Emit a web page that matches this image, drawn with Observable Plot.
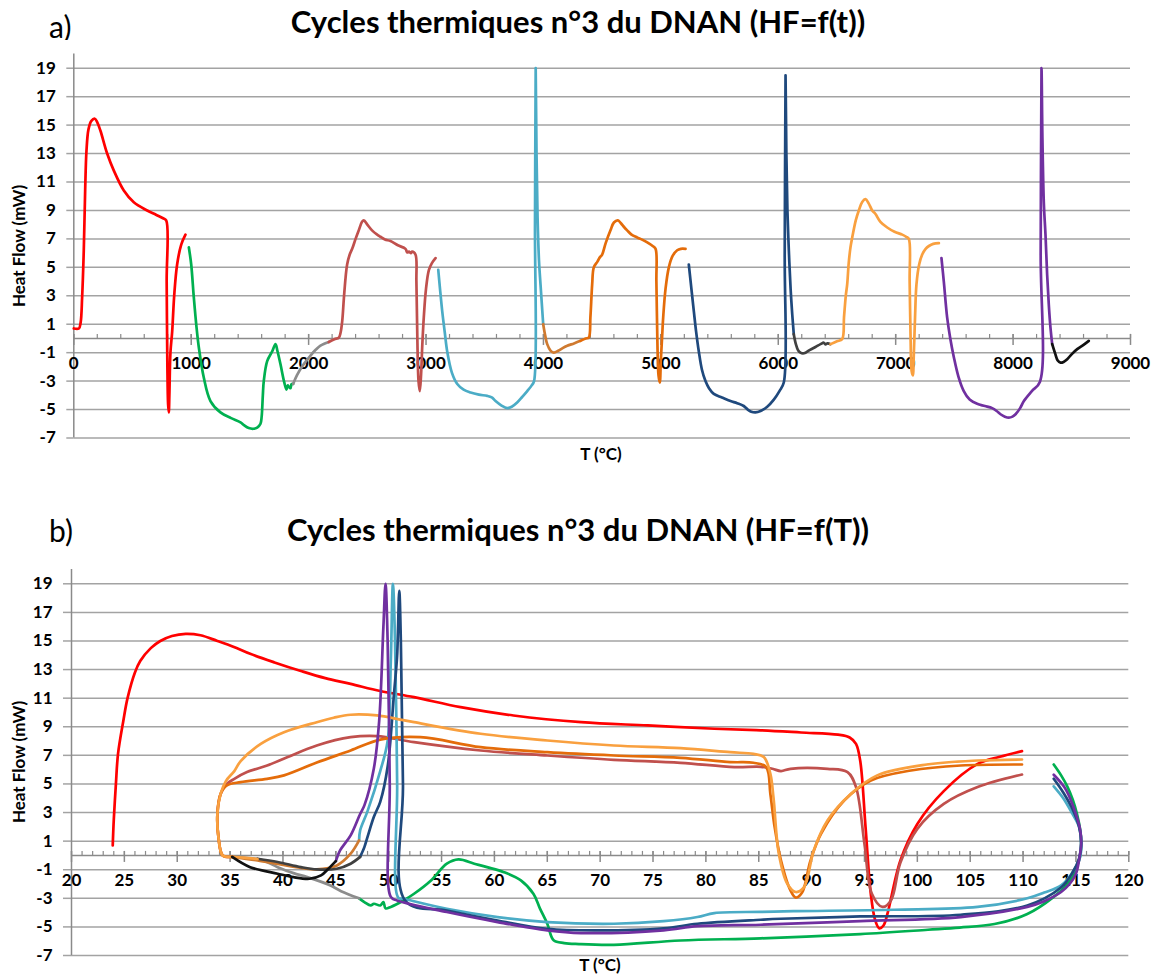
<!DOCTYPE html>
<html>
<head>
<meta charset="utf-8">
<script src="https://cdn.jsdelivr.net/npm/d3@7"></script>
<script src="https://cdn.jsdelivr.net/npm/@observablehq/plot@0.6"></script>
<style>
  html, body { margin: 0; padding: 0; background: #fff; }
  body { width: 1156px; height: 977px; position: relative; overflow: hidden; font-family: Lato, "Open Sans", sans-serif; }
  .lbl { position: absolute; font-size: 30px; font-weight: normal; line-height: 30px; color: #000; }
  .ttl { position: absolute; left: 0; width: 1156px; text-align: center; font-size: 31px; font-weight: bold; line-height: 31px; color: #000; }
  .panel { position: absolute; left: 0; }
  .ax { position: absolute; width: 200px; text-align: center; font-size: 17px; font-weight: bold; line-height: 18px; color: #000; z-index: 2; }
  .rot { transform: rotate(-90deg); transform-origin: 50% 50%; }
</style>
</head>
<body>
<div class="lbl" style="left:49px; top:11px;">a)</div>
<div class="ttl" style="top:6px;">Cycles thermiques n°3 du DNAN (HF=f(t))</div>
<div class="panel" id="pa" style="top:40px;"></div>
<div class="ax rot" style="left:-81px; top:237px;">Heat Flow (mW)</div>
<div class="ax" style="left:501px; top:445px;">T (°C)</div>
<div class="lbl" style="left:49px; top:515px;">b)</div>
<div class="ttl" style="top:514px;">Cycles thermiques n°3 du DNAN (HF=f(T))</div>
<div class="panel" id="pb" style="top:550px;"></div>
<div class="ax rot" style="left:-81px; top:753px;">Heat Flow (mW)</div>
<div class="ax" style="left:500px; top:956px;">T (°C)</div>
<script>
// ---------------- DATA ----------------
const yTicks = [19, 17, 15, 13, 11, 9, 7, 5, 3, 1, -1, -3, -5, -7];
const aTicksMajor = [0, 1000, 2000, 3000, 4000, 5000, 6000, 7000, 8000, 9000];
const aTicksMinor = d3.range(0, 9001, 200);
const bTicksMajor = [20, 25, 30, 35, 40, 45, 50, 55, 60, 65, 70, 75, 80, 85, 90, 95, 100, 105, 110, 115, 120];
const bTicksMinor = d3.range(20, 121, 1);

// Panel a: [time, heat flow]
const aRed = [[0,0.7],[43,0.7],[58,1.1],[71,2.9],[85,6.2],[97,10.5],[108,13.2],[125,14.7],[150,15.3],[179,15.45],[200,15.2],[227,14.6],[284,13.0],[341,11.8],[426,10.4],[511,9.57],[625,9.0],[700,8.7],[760,8.45],[787,8.3],[791,4],[797,-2],[803,-4.6],[809,-5.2],[814,-4],[823,-1],[838,0.5],[855,3],[880,5.2],[915,6.6],[951,7.3]];
const aGreen = [[980,6.4],[1000,5.2],[1022,2.9],[1045,0.8],[1065,-0.64],[1107,-2.75],[1164,-4.4],[1249,-5.2],[1340,-5.6],[1420,-5.9],[1450,-6.1],[1490,-6.3],[1530,-6.35],[1562,-6.27],[1590,-6.0],[1600,-5.5],[1610,-4],[1618,-3.0],[1647,-1.6],[1690,-0.9],[1718,-0.4],[1735,-0.9],[1760,-1.8],[1790,-3.0],[1811,-3.6],[1822,-3.3],[1831,-3.4],[1845,-3.5],[1855,-3.2],[1868,-3.2]];
const aGrey = [[1868,-3.2],[1900,-2.6],[1950,-1.9],[2016,-1.2],[2060,-0.8],[2101,-0.5],[2172,-0.25]];
const aBrownRed = [[2172,-0.25],[2220,-0.05],[2257,0.05],[2272,0.4],[2286,1.2],[2300,2.8],[2315,4.3],[2328,5.2],[2350,5.9],[2371,6.3],[2400,7.0],[2427,7.6],[2455,8.2],[2470,8.3],[2500,8.0],[2540,7.6],[2584,7.3],[2612,7.15],[2650,6.95],[2697,6.85],[2760,6.55],[2825,6.3],[2840,6.05],[2854,6.1],[2870,6.0],[2882,6.1],[2910,5.9],[2918,4],[2926,0],[2936,-3],[2947,-3.7],[2958,-2.5],[2968,-0.5],[2981,1.5],[3000,3.5],[3024,4.8],[3050,5.3],[3081,5.65]];
const aLightBlue = [[3104,4.83],[3120,3.4],[3138,1.9],[3160,0.4],[3180,-0.9],[3220,-2.4],[3266,-3.2],[3320,-3.6],[3379,-3.8],[3450,-3.95],[3521,-4.04],[3560,-4.15],[3592,-4.4],[3640,-4.7],[3691,-4.9],[3730,-4.8],[3776,-4.5],[3820,-4.1],[3862,-3.7],[3900,-3.3],[3920,-3.0],[3928,8],[3934,19],[3941,13],[3950,8.5],[3962,5.5],[3975,3.8],[3998,1.0]];
const aOrangeBrown = [[3998,1.0],[4015,0.2],[4032,-0.4],[4060,-0.85],[4088,-1.0],[4130,-0.85],[4160,-0.7],[4203,-0.52],[4260,-0.35],[4315,-0.17]];
const aOrange = [[4315,-0.17],[4360,0],[4386,0.06],[4400,1.5],[4415,3.8],[4429,5.0],[4460,5.4],[4480,5.7],[4500,5.9],[4530,6.7],[4571,7.6],[4600,8.15],[4634,8.3],[4660,8.1],[4690,7.8],[4713,7.6],[4750,7.3],[4798,7.1],[4840,6.95],[4884,6.75],[4930,6.5],[4955,6.3],[4962,4],[4970,0],[4980,-2.6],[4991,-3.1],[5000,-1.5],[5010,0],[5020,1.5],[5040,3.5],[5068,5.0],[5100,5.8],[5139,6.2],[5170,6.3],[5210,6.3]];
const aDarkBlue = [[5238,5.2],[5260,3.5],[5281,1.9],[5300,0.5],[5323,-0.9],[5350,-2.2],[5380,-3.0],[5410,-3.5],[5451,-3.9],[5520,-4.15],[5593,-4.4],[5650,-4.55],[5706,-4.75],[5740,-5.0],[5770,-5.15],[5806,-5.2],[5849,-5.1],[5906,-4.8],[5962,-4.3],[6010,-3.7],[6047,-3.1],[6055,6],[6062,18.5],[6069,13],[6078,9],[6090,6.2],[6105,3.5],[6119,1.7],[6132,0.3]];
const aDarkGrey = [[6132,0.3],[6150,-0.4],[6170,-0.85],[6189,-1.0],[6210,-1.05],[6232,-1.0],[6270,-0.8],[6317,-0.6],[6360,-0.4],[6388,-0.3],[6402,-0.42],[6420,-0.35],[6445,-0.4]];
const aLightOrange = [[6445,-0.4],[6500,-0.2],[6544,-0.05],[6560,1.5],[6575,3.0],[6587,3.8],[6600,5.3],[6615,6.4],[6630,7.1],[6660,8.3],[6686,9.0],[6715,9.6],[6743,9.8],[6770,9.5],[6800,9.0],[6828,8.75],[6870,8.2],[6928,7.8],[6990,7.5],[7056,7.3],[7090,7.15],[7112,7.0],[7119,4],[7127,0],[7136,-2.3],[7146,-2.6],[7155,-1],[7165,1.5],[7177,3.8],[7200,5.2],[7226,5.9],[7255,6.3],[7283,6.5],[7320,6.65],[7368,6.7]];
const aPurple = [[7390,5.65],[7410,4],[7438,1.5],[7465,0],[7495,-1.3],[7535,-2.7],[7580,-3.7],[7630,-4.3],[7694,-4.6],[7760,-4.75],[7822,-4.9],[7860,-5.1],[7893,-5.33],[7930,-5.5],[7964,-5.57],[7995,-5.5],[8021,-5.33],[8060,-4.9],[8092,-4.4],[8160,-3.7],[8228,-3.06],[8235,6],[8242,19],[8250,14],[8262,9.5],[8276,7.3],[8290,4.5],[8304,2.4],[8318,0.8],[8333,-0.4]];
const aBlack = [[8333,-0.4],[8360,-1.1],[8380,-1.55],[8404,-1.7],[8430,-1.65],[8461,-1.46],[8500,-1.1],[8546,-0.75],[8600,-0.45],[8645,-0.17]];

// Panel b: [temperature, heat flow]
const bRed = [[23.9,0.7],[24.0,2.5],[24.2,5],[24.4,7.1],[24.9,9.4],[25.3,11.0],[26.0,12.8],[26.5,13.6],[27.5,14.5],[28.4,15.0],[29.5,15.35],[30.8,15.5],[32.2,15.4],[33.8,15.0],[35.3,14.6],[36.9,14.1],[39.2,13.5],[41.7,12.9],[44.0,12.4],[46.4,12.0],[49.2,11.5],[52.4,11.07],[56.8,10.37],[61.8,9.79],[68.2,9.32],[74.5,9.09],[80.8,8.86],[85.2,8.75],[89,8.6],[92.5,8.45],[93.6,8.25],[94.2,7.8],[94.6,6.6],[95.1,2.0],[95.6,-2.7],[96.0,-4.5],[96.4,-5.1],[96.8,-4.9],[97.2,-4],[98.4,-0.35],[100,2.2],[102.5,4.5],[105.7,6.4],[107.8,6.9],[109.9,7.3]];
const bGreen = [[112.9,6.36],[113.6,5.6],[114.2,4.8],[114.7,3.9],[115.1,2.9],[115.4,1.8],[115.5,0.8],[115.4,0],[115.1,-0.8],[114.7,-1.45],[114.2,-2.0],[112.9,-2.9],[110.4,-4.1],[107.3,-4.8],[104,-5.05],[101,-5.2],[94.6,-5.5],[85.2,-5.8],[77.6,-5.95],[71.3,-6.25],[68,-6.2],[66.6,-6.13],[65.6,-5.94],[65.0,-4.78],[64.3,-3.7],[63.7,-2.7],[62.5,-1.75],[60.9,-1.17],[59.3,-0.82],[58.1,-0.58],[56.6,-0.28],[55.5,-0.58],[54.0,-1.75],[52.4,-2.68],[51.4,-3.15],[50.2,-3.6],[49.7,-3.7],[49.5,-3.27],[49.2,-3.5],[48.6,-3.38],[48.3,-3.5],[47.7,-3.26],[47.2,-3.0]];
const bGrey = [[47.2,-3.0],[45.5,-2.5],[44.5,-2.1],[42.3,-1.52],[41,-1.24],[39.5,-0.82],[37.9,-0.3],[36.3,-0.16],[35.2,-0.1]];
const bBrownRed = [[35.2,-0.1],[34.3,0],[33.9,1.28],[33.8,2.9],[34.1,4.3],[34.6,4.95],[35.4,5.36],[36.6,5.83],[38.5,6.29],[40.4,6.87],[43.2,7.69],[46.4,8.27],[48.9,8.35],[52.4,7.92],[58.7,7.34],[65,6.99],[71.3,6.69],[77.6,6.48],[82.7,6.18],[85.2,6.2],[86.3,6.06],[87.1,5.9],[88,6.06],[91.5,6.06],[93.4,5.83],[94.2,4.78],[95,0.8],[95.7,-2.68],[96.7,-3.6],[97.5,-3.15],[98.4,-0.5],[100,1.86],[102.5,3.6],[105.7,4.78],[109.9,5.66]];
const bLightBlue = [[112.9,4.83],[113.8,4.0],[114.6,3.0],[115.3,2.0],[115.5,0.9],[115.4,-0.1],[114.8,-1.05],[113.6,-2.1],[112,-2.6],[110.4,-3.0],[105.7,-3.6],[97.8,-3.8],[88.3,-3.9],[85.2,-3.95],[80.8,-4.03],[79.2,-4.31],[76,-4.6],[71.3,-4.78],[65,-4.66],[60.3,-4.31],[55.5,-3.73],[51.4,-3.03],[50.9,-2.95],[50.8,5],[50.6,15],[50.4,19],[50.2,13.6],[49.9,8.0],[49.2,5.9],[48,3.1],[47.3,1.75],[47.2,1.05]];
const bOrangeBrown = [[47.2,1.05],[46.4,0.12],[45.1,-0.7],[43.2,-0.98],[41.7,-0.88],[39.5,-0.6],[37.6,-0.35],[35.2,-0.1]];
const bOrange = [[35.2,-0.1],[34.3,0],[33.9,1.28],[33.8,2.9],[34.1,4.3],[34.7,4.9],[36,5.13],[38.5,5.36],[40.1,5.6],[43.2,6.5],[46.4,7.34],[49.2,8.1],[53,8.27],[58.7,7.57],[65,7.22],[71.3,6.99],[77.6,6.83],[82.3,6.53],[84.5,6.48],[85.7,6.18],[86.1,4.3],[86.5,2],[87.1,-0.35],[88,-2.45],[88.5,-2.95],[89.1,-2.6],[89.9,-0.35],[90.9,1.52],[93.1,3.85],[95.6,5.24],[99.4,5.94],[104.1,6.29],[109.9,6.36]];
const bDarkBlue = [[112.9,5.36],[113.8,4.4],[114.7,3.2],[115.3,2.0],[115.5,0.9],[115.3,-0.2],[114.6,-1.3],[113.5,-2.3],[110.4,-3.5],[104.1,-4.15],[94.6,-4.27],[87.1,-4.43],[85.2,-4.5],[79.2,-4.78],[76,-5.1],[69.7,-5.24],[65,-5.13],[60.3,-4.55],[55.5,-3.85],[51.6,-3.2],[51.35,5],[51.15,15],[51.0,18.5],[50.8,14],[50.5,11.3],[49.9,6.2],[49.2,3.75],[48.6,2.7],[48,1.3],[47.7,0.58],[47.3,-0.1]];
const bDarkGrey = [[47.3,-0.1],[46.4,-0.58],[45.1,-0.93],[43.2,-0.98],[41.7,-0.82],[39.5,-0.46],[37.6,-0.23]];
const bLightOrange = [[37.6,-0.25],[36.3,-0.15],[35.2,-0.1],[34.3,0],[33.9,1.28],[33.8,2.9],[34.1,4.3],[34.6,5.2],[35.4,5.9],[36,6.6],[37.9,7.8],[40.1,8.62],[43.2,9.32],[44.8,9.63],[46.4,9.84],[48.9,9.79],[51.1,9.5],[52.4,9.32],[58.7,8.51],[65,8.04],[71.3,7.69],[77.6,7.5],[82.3,7.22],[84.5,7.1],[85.5,6.87],[86.1,5.7],[86.4,4.0],[86.9,0.12],[87.7,-1.98],[88.5,-2.56],[89.3,-2.2],[90.2,0.35],[91.5,2.45],[93.7,4.3],[96.2,5.6],[100.9,6.36],[105.7,6.64],[109.9,6.71]];
const bPurple = [[112.9,5.64],[113.9,4.78],[114.5,3.9],[115,2.9],[115.4,1.8],[115.5,0.82],[115.3,-0.3],[115,-1.28],[114.4,-2.0],[113.6,-2.56],[112,-3.2],[110.4,-3.6],[104.1,-4.31],[94.6,-4.59],[85.2,-4.85],[79.2,-4.95],[76,-5.24],[68.2,-5.43],[65,-5.24],[60.3,-4.66],[55.5,-3.96],[50.8,-3.15],[50.2,-2.9],[50.1,5],[49.9,15],[49.7,19],[49.5,16],[49.1,9.4],[48.6,6.1],[47.7,3.5],[47.3,2.9],[46.4,1.4],[45.4,0.35],[45,-0.4]];
const bBlack = [[45,-0.4],[44.3,-0.93],[43.6,-1.4],[42.5,-1.63],[41,-1.52],[39.5,-1.28],[36.9,-0.82],[35.2,-0.1]];

// ---------------- STYLES ----------------
const col = {
  red: "#ff0000", green: "#00b050", grey: "#8c8c8c", brownRed: "#c0504d",
  lightBlue: "#4bacc6", orangeBrown: "#cf7a30", orange: "#e46c0a", darkBlue: "#1f497d",
  darkGrey: "#404040", lightOrange: "#f9a03f", purple: "#7030a0", black: "#111111"
};
const aSeries = [
  [aRed, col.red], [aGreen, col.green], [aGrey, col.grey], [aBrownRed, col.brownRed],
  [aLightBlue, col.lightBlue], [aOrangeBrown, col.orangeBrown], [aOrange, col.orange],
  [aDarkBlue, col.darkBlue], [aDarkGrey, col.darkGrey], [aLightOrange, col.lightOrange],
  [aPurple, col.purple], [aBlack, col.black]
];
const bSeries = [
  [bRed, col.red], [bGreen, col.green], [bGrey, col.grey], [bBrownRed, col.brownRed],
  [bLightBlue, col.lightBlue], [bOrangeBrown, col.orangeBrown], [bOrange, col.orange],
  [bDarkBlue, col.darkBlue], [bDarkGrey, col.darkGrey], [bLightOrange, col.lightOrange],
  [bPurple, col.purple], [bBlack, col.black]
];

const gridCol = "#a3a3a3", axisCol = "#8a8a8a";

function panel({xDomain, major, minor, series, mL, mR, mT, mB, yTickSize}) {
  return Plot.plot({
    width: 1156, height: 440,
    marginLeft: mL, marginRight: mR, marginTop: mT, marginBottom: mB,
    style: {fontFamily: "Lato, 'Open Sans', sans-serif", background: "white", overflow: "visible"},
    x: {domain: xDomain, axis: null},
    y: {domain: [-7, 20], axis: null},
    marks: [
      Plot.ruleY(yTicks, {stroke: gridCol, strokeWidth: 1.5}),
      Plot.axisY(yTicks, {tickSize: yTickSize, tickPadding: 11, fontSize: 17, fontWeight: "bold",
        stroke: gridCol, strokeWidth: 1.5, fill: "#000", label: null, tickFormat: d => String(d)}),
      Plot.ruleX([xDomain[0]], {stroke: axisCol, strokeWidth: 1.5}),
      Plot.ruleY([0], {stroke: axisCol, strokeWidth: 1.5}),
      Plot.ruleX(minor, {y1: 0, y2: 0, insetTop: -4, stroke: axisCol, strokeWidth: 1.2}),
      Plot.ruleX(major, {y1: 0, y2: 0, insetTop: -4, insetBottom: -7, stroke: axisCol, strokeWidth: 1.5}),
      Plot.text(major, {x: d => d, y: 0, dy: 25, text: d => String(d), fontSize: 17, fontWeight: "bold", fill: "#000"}),
      ...series.map(([d, c]) => Plot.line(d, {x: d => d[0], y: d => d[1], stroke: c, strokeWidth: 2.7,
        curve: "catmull-rom", strokeLinejoin: "round", strokeLinecap: "round"}))
    ]
  });
}

document.getElementById("pa").appendChild(panel({
  xDomain: [0, 9000], major: aTicksMajor, minor: aTicksMinor, series: aSeries,
  mL: 73.3, mR: 26, mT: 13.5, mB: 42.5, yTickSize: 7
}));
document.getElementById("pb").appendChild(panel({
  xDomain: [20, 120], major: bTicksMajor, minor: bTicksMinor, series: bSeries,
  mL: 71, mR: 27.7, mT: 19, mB: 35, yTickSize: 8
}));
</script>
</body>
</html>
